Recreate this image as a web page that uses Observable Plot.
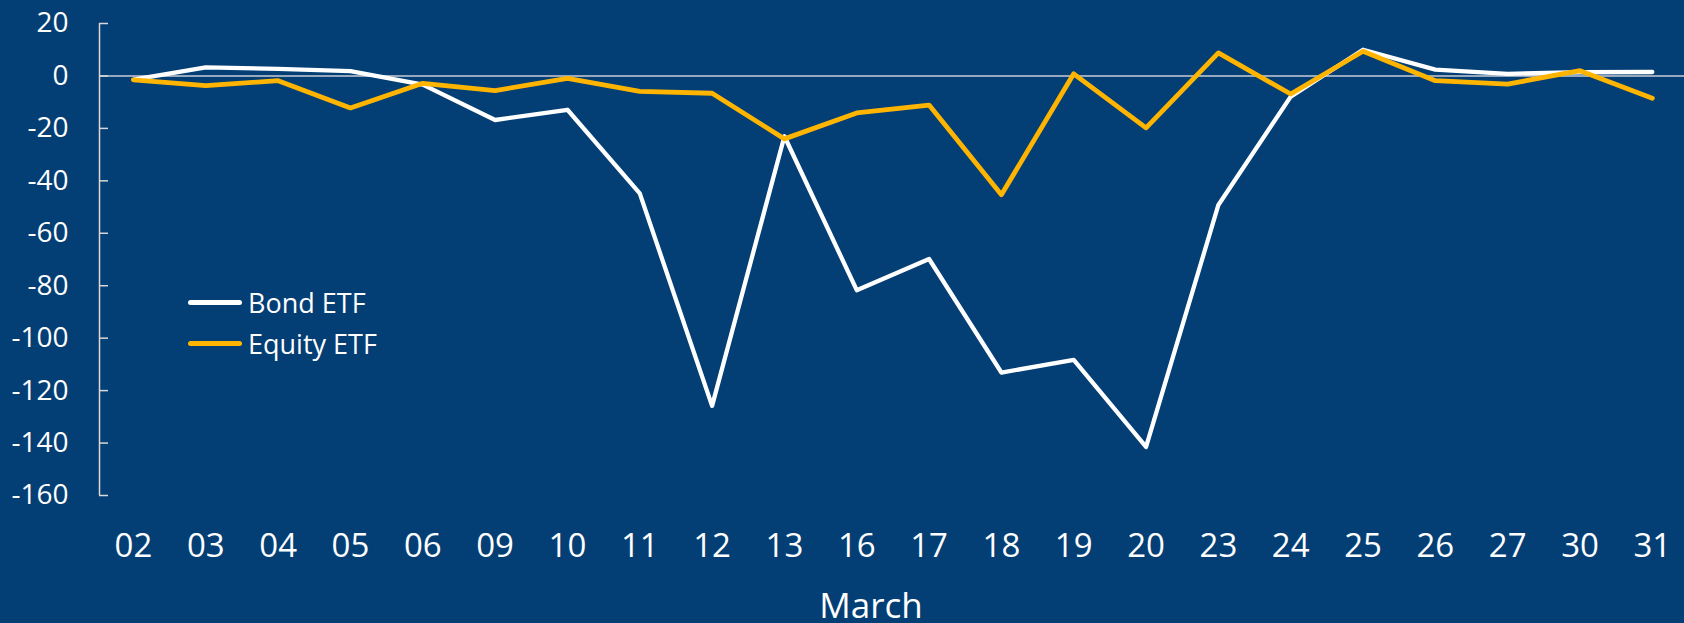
<!DOCTYPE html>
<html>
<head>
<meta charset="utf-8">
<script src="https://cdn.jsdelivr.net/npm/d3@7"></script>
<script src="https://cdn.jsdelivr.net/npm/@observablehq/plot@0.6"></script>
<style>
  html, body { margin: 0; padding: 0; background: #033E74; }
  #wrap { position: relative; width: 1684px; height: 623px; overflow: hidden; }
  #legend { position: absolute; left: 188px; top: 282px; font-family: "Open Sans", sans-serif; font-size: 27px; color: #fff; }
  .row { display: flex; align-items: center; height: 41px; }
  .sw { width: 54px; height: 5px; border-radius: 3px; margin-right: 6px; }
</style>
</head>
<body>
<div id="wrap"></div>
<script>
const dates = ["02","03","04","05","06","09","10","11","12","13","16","17","18","19","20","23","24","25","26","27","30","31"];
const bond = [-1.4, 3.3, 2.7, 1.8, -3.3, -16.8, -12.9, -44.8, -125.8, -23.0, -81.7, -69.8, -113.1, -108.3, -141.5, -49.2, -7.9, 10.0, 2.4, 0.8, 1.4, 1.5];
const equity = [-1.5, -3.7, -1.8, -12.2, -2.8, -5.6, -0.9, -5.9, -6.6, -24.0, -14.1, -11.1, -45.3, 0.8, -19.8, 8.8, -6.9, 9.4, -1.8, -3.1, 2.0, -8.5];
const yTicks = [20, 0, -20, -40, -60, -80, -100, -120, -140, -160];
const seriesNames = ["Bond ETF", "Equity ETF"];
const seriesColors = ["#FFFFFF", "#FFB500"];
const xLabel = "March";

const idx = dates.map((d, i) => i);
const bondData = idx.map(i => ({i, v: bond[i]}));
const equityData = idx.map(i => ({i, v: equity[i]}));
const xMin = -0.47;

const chart = Plot.plot({
  width: 1684,
  height: 623,
  marginLeft: 99,
  marginRight: 0,
  marginTop: 23,
  marginBottom: 128,
  style: {background: "#033E74", fontFamily: "'Open Sans', sans-serif", color: "#fff", overflow: "hidden"},
  x: {type: "linear", domain: [xMin, dates.length - 0.5], range: [99, 1688]},
  y: {domain: [-160, 20]},
  marks: [
    Plot.ruleY([0], {stroke: "#C8CDD6", strokeWidth: 1.5}),
    Plot.ruleX([xMin], {stroke: "#D9D9D9", strokeWidth: 1.5}),
    Plot.axisY({ticks: yTicks, tickSize: 9, dx: 9, tickFormat: () => "", stroke: "#D9D9D9", strokeWidth: 1.5, label: null}),
    Plot.axisY({ticks: yTicks, tickSize: 0, tickPadding: 31, fontSize: 28, fill: "#fff", label: null, tickFormat: d => String(d)}),
    Plot.axisX({ticks: idx, tickFormat: i => dates[i], tickSize: 0, tickPadding: 38, fontSize: 33, fill: "#fff", label: null}),
    Plot.text([xLabel], {frameAnchor: "bottom", dx: -21, dy: 122, lineAnchor: "bottom", fontSize: 35, fill: "#fff", text: d => d}),
    Plot.line(bondData, {x: "i", y: "v", stroke: seriesColors[0], strokeWidth: 4.3}),
    Plot.line(equityData, {x: "i", y: "v", stroke: seriesColors[1], strokeWidth: 4.8})
  ]
});
const wrap = document.getElementById("wrap");
wrap.appendChild(chart);

const legend = document.createElement("div");
legend.id = "legend";
seriesNames.forEach((name, k) => {
  const row = document.createElement("div");
  row.className = "row";
  const sw = document.createElement("div");
  sw.className = "sw";
  sw.style.background = seriesColors[k];
  const t = document.createElement("span");
  t.textContent = name;
  row.appendChild(sw);
  row.appendChild(t);
  legend.appendChild(row);
});
wrap.appendChild(legend);
</script>
</body>
</html>
